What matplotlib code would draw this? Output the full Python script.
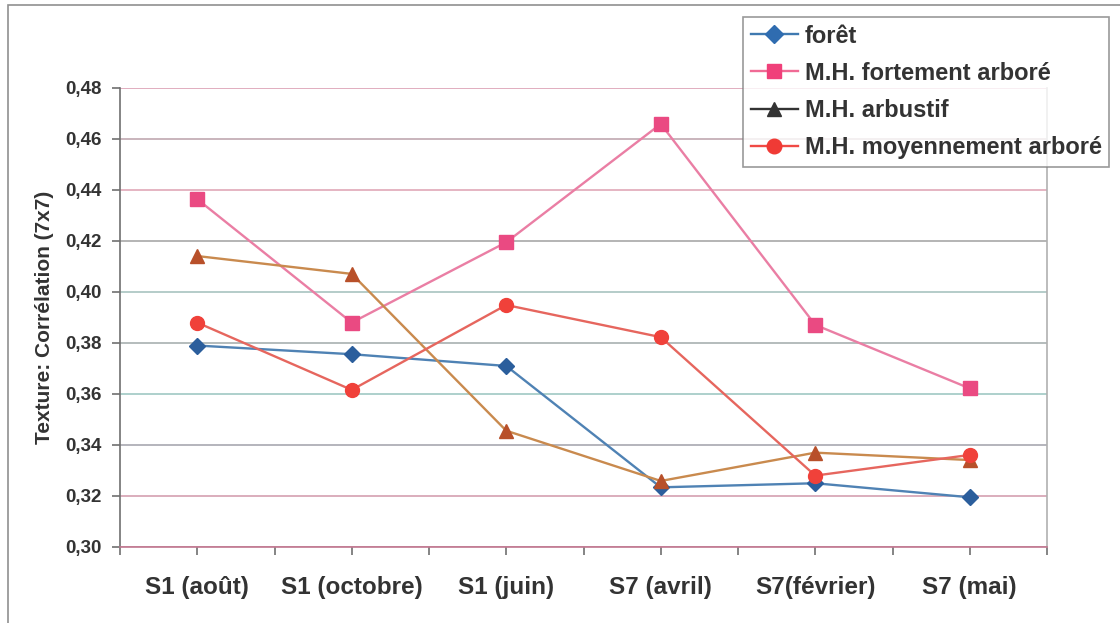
import matplotlib.pyplot as plt
from matplotlib.lines import Line2D
from matplotlib.patches import Rectangle
import numpy as np

plt.rcParams['font.family'] = ['Liberation Sans', 'DejaVu Sans']
plt.rcParams['font.weight'] = 'bold'
plt.rcParams['axes.labelweight'] = 'bold'

categories = ['S1 (août)', 'S1 (octobre)', 'S1 (juin)', 'S7 (avril)', 'S7(février)', 'S7 (mai)']
foret = [0.379, 0.3756, 0.371, 0.3234, 0.325, 0.3195]
fortement = [0.4364, 0.388, 0.4195, 0.4659, 0.3871, 0.3622]
arbustif = [0.4141, 0.4071, 0.3456, 0.3259, 0.337, 0.3341]
moyennement = [0.388, 0.3616, 0.3949, 0.3823, 0.328, 0.3361]
yticks = [0.30, 0.32, 0.34, 0.36, 0.38, 0.40, 0.42, 0.44, 0.46, 0.48]

# gridlines picked up a slight tint here and there
grid_colors = ['#d08aa0', '#d4a0b0', '#a8a8b0', '#9fc8c4', '#a8b0b0', '#a8c4c0',
               '#a8a8a8', '#e0a8b8', '#c0a8b0', '#dca0b4']

fig = plt.figure(figsize=(11.2, 6.23), dpi=100)
ax = fig.add_axes([120 / 1120, 1 - 547 / 623, (1047 - 120) / 1120, (547 - 88) / 623])

x = np.arange(len(categories))
ax.plot(x, foret, color='#4f82b4', lw=1.7, marker='D', ms=8.5,
        mfc='#2b5e9c', mec='#2b5e9c', zorder=4)
ax.plot(x, fortement, color='#ea7ea4', lw=1.7, marker='s', ms=9.5,
        mfc='#ea4a82', mec='#ea4a82', zorder=4)
ax.plot(x, arbustif, color='#c98a4e', lw=1.7, marker='^', ms=10,
        mfc='#b8502a', mec='#b8502a', zorder=4)
ax.plot(x, moyennement, color='#e6665e', lw=1.7, marker='o', ms=10,
        mfc='#f0413a', mec='#f0413a', zorder=4)

for yv, c in zip(yticks, grid_colors):
    ax.axhline(yv, color=c, lw=1.2, zorder=1)

ax.set_xlim(-0.5, len(categories) - 0.5)
ax.set_ylim(0.30, 0.48)
ax.set_yticks(yticks)
ax.set_yticklabels([f'{v:.2f}'.replace('.', ',') for v in yticks], fontsize=13.5)
ax.set_xticks(x)
ax.set_xticklabels(categories, fontsize=17.5)
ax.set_xticks(np.arange(-0.5, len(categories), 1.0), minor=True)
ax.tick_params(axis='x', which='both', direction='out', length=6, width=1.2,
               color='#707070', pad=15, labelcolor='#333333')
ax.tick_params(axis='y', direction='out', length=6, width=1.2,
               color='#707070', pad=7, labelcolor='#333333')

ax.spines['top'].set_visible(False)
ax.spines['left'].set_color('#707070')
ax.spines['bottom'].set_color('#c07890')
ax.spines['right'].set_color('#b0b0b0')
for s in ax.spines.values():
    s.set_linewidth(1.2)

ax.set_ylabel('Texture: Corrélation (7x7)', fontsize=15, color='#333333', labelpad=8)

# legend proxies
handles = [
    Line2D([], [], color='#3f79b0', lw=1.7, marker='D', ms=9, mfc='#2f6cb0', mec='#2f6cb0'),
    Line2D([], [], color='#f06a95', lw=1.7, marker='s', ms=10, mfc='#f0407a', mec='#f0407a'),
    Line2D([], [], color='#333333', lw=1.7, marker='^', ms=10.5, mfc='#333333', mec='#333333'),
    Line2D([], [], color='#f04a45', lw=1.7, marker='o', ms=10.5, mfc='#f03a35', mec='#f03a35'),
]
labels = ['forêt', 'M.H. fortement arboré', 'M.H. arbustif', 'M.H. moyennement arboré']
leg = fig.legend(handles, labels, loc='upper left',
                 bbox_to_anchor=(743 / 1120, 1 - 17 / 623),
                 fontsize=17, frameon=True, fancybox=False, borderaxespad=0,
                 handlelength=2.0, handletextpad=0.3, labelspacing=0.6,
                 borderpad=0.32, labelcolor='#333333')
leg.get_frame().set_edgecolor('#808080')
leg.get_frame().set_linewidth(1.2)

# outer chart frame
fig.patches.append(Rectangle((8 / 1120, -0.1), 1.2, 1 - 5 / 623 + 0.1,
                             transform=fig.transFigure, fill=False,
                             edgecolor='#909090', lw=1.2))

fig.savefig('out.png', dpi=100)
